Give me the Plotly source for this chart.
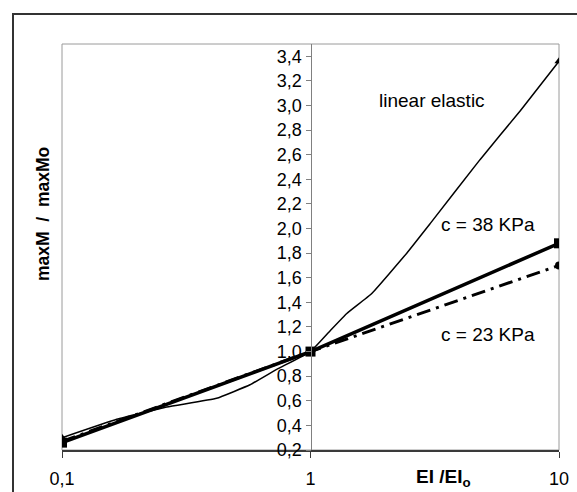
import plotly.graph_objects as go

# ---- data ----
ei_ratio_elastic = [0.1, 0.166, 0.264, 0.419, 0.571, 0.731, 1.0, 1.2, 1.4, 1.76, 2.44, 3.03, 4.81, 7.0, 10.0]
m_ratio_elastic = [0.30, 0.45, 0.55, 0.62, 0.73, 0.855, 1.0, 1.17, 1.31, 1.47, 1.80, 2.04, 2.56, 2.96, 3.36]

ei_ratio_c38 = [0.1, 1.0, 10.0]
m_ratio_c38 = [0.26, 1.0, 1.88]

ei_ratio_c23 = [0.1, 1.0, 10.0]
m_ratio_c23 = [0.27, 1.0, 1.70]

marker_x = [0.1, 1.0, 10.0]
marker_elastic = [0.30, 1.0, 3.36]

x_tick_vals = [0.1, 1, 10]
x_tick_text = ["0,1", "1", "10"]
y_tick_vals = [0.2, 0.4, 0.6, 0.8, 1.0, 1.2, 1.4, 1.6, 1.8, 2.0, 2.2, 2.4, 2.6, 2.8, 3.0, 3.2, 3.4]
y_tick_text = ["0,2", "0,4", "0,6", "0,8", "1,0", "1,2", "1,4", "1,6", "1,8", "2,0",
               "2,2", "2,4", "2,6", "2,8", "3,0", "3,2", "3,4"]

FONT = "Liberation Sans, Arial, sans-serif"

fig = go.Figure()

# linear elastic (thin)
fig.add_trace(go.Scatter(x=ei_ratio_elastic, y=m_ratio_elastic, mode="lines",
                         line=dict(color="black", width=1.5, shape="spline", smoothing=0.3),
                         showlegend=False, hoverinfo="skip"))
fig.add_trace(go.Scatter(x=marker_x, y=marker_elastic, mode="markers",
                         marker=dict(symbol="triangle-up", size=8, color="black"),
                         showlegend=False))
# c = 23 KPa (dash-dot)
fig.add_trace(go.Scatter(x=ei_ratio_c23, y=m_ratio_c23, mode="lines+markers",
                         line=dict(color="black", width=3, dash="14px,6px,3px,6px"),
                         marker=dict(symbol="circle", size=8, color="black"),
                         showlegend=False))
# c = 38 KPa (thick solid)
fig.add_trace(go.Scatter(x=ei_ratio_c38, y=m_ratio_c38, mode="lines+markers",
                         line=dict(color="black", width=3.5),
                         marker=dict(symbol="square", size=10, color="black"),
                         showlegend=False))

fig.update_layout(
    width=577, height=492,
    margin=dict(l=62, r=18, t=44, b=42, autoexpand=False),
    paper_bgcolor="white", plot_bgcolor="white",
    font=dict(family=FONT, size=18, color="black"),
    showlegend=False,
    xaxis=dict(type="log", range=[-1, 1], tickvals=x_tick_vals, ticktext=x_tick_text,
               showgrid=False, zeroline=False, showline=True, linecolor="#3a3a3a", linewidth=1.5,
               ticks="outside", ticklen=6, tickcolor="#3a3a3a", ticklabelstandoff=6,
               tickfont=dict(size=18), automargin=False),
    yaxis=dict(range=[0.2, 3.5], tickvals=y_tick_vals, ticktext=y_tick_text,
               anchor="free", position=0.5, showgrid=False, zeroline=False,
               showline=True, linecolor="#808080", linewidth=1,
               ticks="outside", ticklen=5, tickcolor="#808080",
               tickfont=dict(size=18), automargin=False),
    shapes=[
        dict(type="rect", xref="paper", yref="paper", x0=0, x1=1, y0=0, y1=1,
             line=dict(color="#9a9a9a", width=1), layer="below"),
        dict(type="rect", xref="paper", yref="paper", x0=(13 - 62) / 497, x1=1.06,
             y0=-0.2, y1=(450 - 14) / 406, line=dict(color="#333333", width=2)),
    ],
    annotations=[
        dict(text="linear elastic", xref="paper", yref="paper", x=(432 - 62) / 497, y=(450 - 100) / 406,
             xanchor="center", yanchor="middle", showarrow=False, font=dict(size=19)),
        dict(text="c = 38 KPa", xref="paper", yref="paper", x=(488 - 62) / 497, y=(450 - 224) / 406,
             xanchor="center", yanchor="middle", showarrow=False, font=dict(size=19)),
        dict(text="c = 23 KPa", xref="paper", yref="paper", x=(488 - 62) / 497, y=(450 - 334) / 406,
             xanchor="center", yanchor="middle", showarrow=False, font=dict(size=19)),
        dict(text="<b>EI /EI<sub>o</sub></b>", xref="paper", yref="paper", x=(443 - 62) / 497,
             y=(450 - 478) / 406, xanchor="center", yanchor="middle", showarrow=False, font=dict(size=19)),
        dict(text="<b>maxM  /  maxMo</b>", xref="paper", yref="paper", x=(43 - 62) / 497,
             y=(450 - 214) / 406, xanchor="center", yanchor="middle", textangle=-90,
             showarrow=False, font=dict(size=17.5)),
    ],
)

fig.write_html("out.html")
